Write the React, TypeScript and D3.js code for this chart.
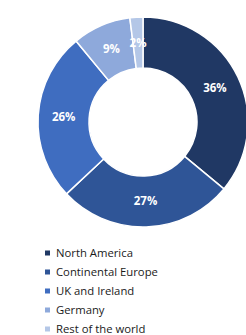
import React from 'react';
import * as d3 from 'd3';

const W = 246;
const H = 335;

const regions = ['North America', 'Continental Europe', 'UK and Ireland', 'Germany', 'Rest of the world'];
const shares = [36, 27, 26, 9, 2];
const colors = ['#203864', '#2f5597', '#3f6dc0', '#8ea9db', '#b4c7e7'];

const CX = 143;
const CY = 122;
const R_OUT = 105;
const R_IN = 54;

export default function App() {
  const data = regions.map((name, i) => ({ name, value: shares[i], color: colors[i] }));

  const pie = d3.pie<{ name: string; value: number; color: string }>()
    .value(d => d.value)
    .sort(null);
  const arcs = pie(data);

  const arcGen = d3.arc<d3.PieArcDatum<any>>().innerRadius(R_IN).outerRadius(R_OUT);
  const labelArc = d3.arc<d3.PieArcDatum<any>>()
    .innerRadius((R_IN + R_OUT) / 2)
    .outerRadius((R_IN + R_OUT) / 2);

  // legend rows
  const legendY = d3.scalePoint<string>().domain(regions).range([253, 329]);

  return (
    <svg
      width={W}
      height={H}
      style={{ position: 'absolute', left: 0, top: 0, background: '#fff' }}
      fontFamily="'Open Sans', 'Liberation Sans', sans-serif"
    >
      <g transform={`translate(${CX},${CY})`}>
        {arcs.map(a => (
          <path key={a.data.name} d={arcGen(a) || ''} fill={a.data.color} stroke="#fff" strokeWidth={1.5} />
        ))}
        {arcs.map(a => {
          const [x, y] = labelArc.centroid(a);
          return (
            <text
              key={'l' + a.data.name}
              x={x}
              y={y}
              dy="0.35em"
              textAnchor="middle"
              fill="#fff"
              fontSize={11.5}
              fontWeight="bold"
            >
              {a.data.value}%
            </text>
          );
        })}
      </g>

      <g>
        {data.map(d => {
          const y = legendY(d.name) || 0;
          return (
            <g key={'lg' + d.name}>
              <rect x={45} y={y - 2.5} width={5} height={5} fill={d.color} />
              <text x={56} y={y} dy="0.35em" fontSize={11.3} fill="#1a1a1a">
                {d.name}
              </text>
            </g>
          );
        })}
      </g>
    </svg>
  );
}
